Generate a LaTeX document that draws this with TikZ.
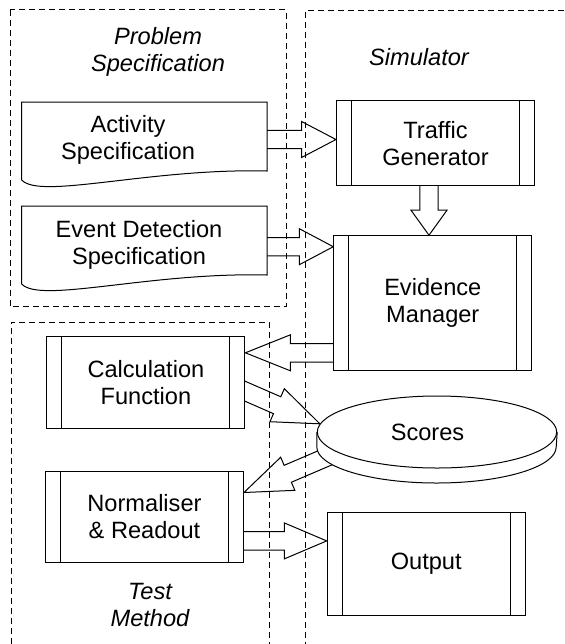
\documentclass[tikz,border=0pt]{standalone}
\usepackage{fontspec}
\setmainfont{Liberation Sans}
\usetikzlibrary{calc,positioning,shapes.geometric,backgrounds}

\tikzset{
  every node/.style={font=\fontsize{11.8}{13.5}\selectfont, align=center},
  procbox/.style={draw, fill=white, line width=0.5pt, inner sep=0pt, minimum width=99pt,
    path picture={
      \draw ([xshift=7.5pt]path picture bounding box.north west) -- ([xshift=7.5pt]path picture bounding box.south west);
      \draw ([xshift=-7.5pt]path picture bounding box.north east) -- ([xshift=-7.5pt]path picture bounding box.south east);}},
  docline/.style={draw, fill=white, line width=0.5pt},
  disk/.style={ellipse, draw, fill=white, line width=0.5pt, inner sep=0pt, minimum width=119.7pt, minimum height=36pt},
  frame/.style={line width=0.5pt, dash pattern=on 3pt off 2pt},
  grouplabel/.style={font=\fontsize{11.8}{13.5}\selectfont\itshape},
  blockarr/.style={draw, fill=white, line width=0.5pt, line join=miter},
}

% hollow block arrow: [head length]{from}{to}
\newcommand{\blockarrow}[3][17pt]{%
  \coordinate (bh) at ($(#3)!#1!(#2)$);
  \draw[blockarr] ($(#2)!4.6pt!90:(#3)$) -- ($(bh)!4.6pt!90:(#3)$) -- ($(bh)!9pt!90:(#3)$) -- (#3)
    -- ($(bh)!9pt!-90:(#3)$) -- ($(bh)!4.6pt!-90:(#3)$) -- ($(#2)!4.6pt!-90:(#3)$);}

\begin{document}
\begin{tikzpicture}[x=0.5pt,y=-0.5pt]
        \useasboundingbox (0,0) rectangle (564,644);

        % group titles
        \node[grouplabel] (probtitle) at (158,52) {Problem\\Specification};
        \node[grouplabel] (simtitle) at (419,57) {Simulator};
        \node[grouplabel] (testtitle) at (150,605) {Test\\Method};

        % documents
        \draw[docline] (21.7,102) -- (267,102) -- (267,171) .. controls (150,168) and (40,200) .. (21.7,180) -- cycle;
        \node (act) at (128,140) {Activity\\Specification};
        \draw[docline] (21.7,206) -- (267,206) -- (267,275) .. controls (150,272) and (40,304) .. (21.7,284) -- cycle;
        \node (event) at (139,245) {Event Detection\\Specification};
        \coordinate (act-e) at (262,139.5);
        \coordinate (event-e) at (262,246.7);

        % processes
        \node[procbox, minimum height=42.5pt] (traf) at (435.5,143.2) {Traffic\\Generator};
        \node[procbox, minimum height=67.3pt] (evid) at (432.8,303) {Evidence\\Manager};
        \node[procbox, minimum height=46.2pt] (calc) at (145.9,382.2) {Calculation\\Function};
        \node[procbox, minimum height=45.9pt] (norm) at (144.5,516.9) {Normaliser\\\& Readout};
        \node[procbox, minimum height=51.2pt] (output) at (426.2,563.9) {Output};
        \node[disk] (scores) at (437,432) {Scores\hspace{9.5pt}};

        \begin{scope}[on background layer]
        \coordinate (t1) at (traf.west |- act-e);
        \blockarrow[17.2pt]{act-e}{t1}
        \coordinate (t2) at (evid.west |- event-e);
        \blockarrow[17pt]{event-e}{t2}
        \coordinate (s3) at ($(traf.south)+(-6.5,-5)$);
        \coordinate (t3) at (s3 |- evid.north);
        \blockarrow[12.5pt]{s3}{t3}
        \coordinate (s4) at ($(evid.south west)+(5,-18)$);
        \coordinate (t4) at (calc.east |- s4);
        \blockarrow[22.5pt]{s4}{t4}
        \coordinate (s5) at ($(calc.east)+(-5,7)$);
        \blockarrow[23.3pt]{s5}{scores.176}
        \coordinate (s6) at ($(scores.center)+(-103,22)$);
        \coordinate (t6) at ($(norm.north east)+(0,22)$);
        \blockarrow[23.8pt]{s6}{t6}
        \coordinate (s7) at ($(norm.east)+(-5,24)$);
        \coordinate (t7) at (output.west |- s7);
        \blockarrow[21.2pt]{s7}{t7}

        % dashed groups
        \draw[frame] (10,9.5) rectangle (286,306);
        \draw[frame] (564,10) -- (305.7,10) -- (305.7,644);
        \draw[frame] (11,644) -- (11,322) -- (269,322) -- (269,644);

        % rim of the scores disk
        \draw[docline] (scores.west) -- ++(0,15) arc[start angle=180, end angle=0, x radius=119.7, y radius=36] -- (scores.east);
        \end{scope}
\end{tikzpicture}
\end{document}
